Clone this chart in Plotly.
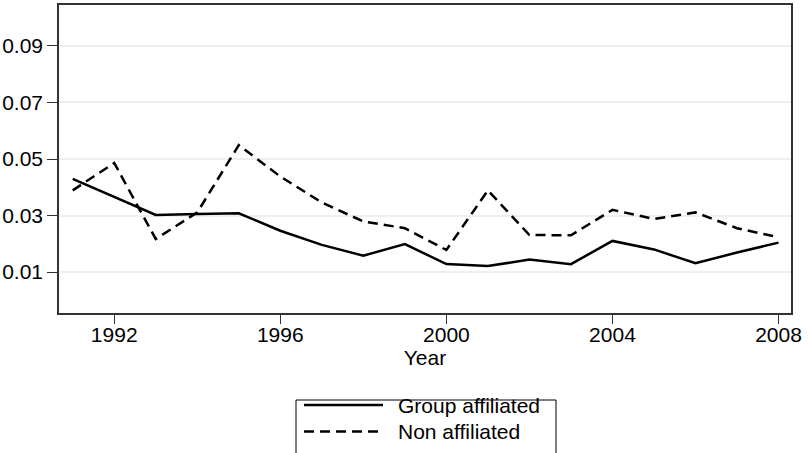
import plotly.graph_objects as go

years = list(range(1991, 2009))
group_affiliated = [0.0430, 0.0367, 0.0302, 0.0305, 0.0308, 0.0246, 0.0196, 0.0158, 0.0199,
                    0.0128, 0.0121, 0.0144, 0.0128, 0.0210, 0.0180, 0.0131, 0.0169, 0.0204]
non_affiliated = [0.0389, 0.0486, 0.0217, 0.0311, 0.0549, 0.0438, 0.0346, 0.0279, 0.0255,
                  0.0178, 0.0389, 0.0231, 0.0230, 0.0320, 0.0288, 0.0311, 0.0255, 0.0223]
x_ticks = [1992, 1996, 2000, 2004, 2008]
y_ticks = [0.01, 0.03, 0.05, 0.07, 0.09]
y_tick_labels = ["0.01", "0.03", "0.05", "0.07", "0.09"]
series_names = ["Group affiliated", "Non affiliated"]

FONT = "Liberation Sans, Arial, Helvetica, sans-serif"
DASH = "10px,6px"

fig = go.Figure()
fig.add_trace(go.Scatter(x=years, y=group_affiliated, mode="lines", name=series_names[0],
                         line=dict(color="black", width=2.5)))
fig.add_trace(go.Scatter(x=years, y=non_affiliated, mode="lines", name=series_names[1],
                         line=dict(color="black", width=2.5, dash=DASH)))

# --- manual legend (paper coordinates; plot area is 732 x 308 px) ---
PW, PH, L0, B0 = 732.0, 308.0, 59.0, 313.0
def px(x):
    return (x - L0) / PW
def py(y):
    return (B0 - y) / PH

shapes = [
    dict(type="rect", xref="paper", yref="paper", x0=px(296), x1=px(556), y0=py(455), y1=py(400),
         line=dict(color="black", width=1), fillcolor="white", layer="above"),
    dict(type="line", xref="paper", yref="paper", x0=px(304), x1=px(383), y0=py(405), y1=py(405),
         line=dict(color="black", width=2.5)),
    dict(type="line", xref="paper", yref="paper", x0=px(304), x1=px(383), y0=py(431.5), y1=py(431.5),
         line=dict(color="black", width=2.5, dash=DASH)),
]
annotations = [
    dict(text=series_names[0], xref="paper", yref="paper", x=px(396), y=py(405),
         xanchor="left", yanchor="middle", showarrow=False, font=dict(size=21)),
    dict(text=series_names[1], xref="paper", yref="paper", x=px(396), y=py(431.5),
         xanchor="left", yanchor="middle", showarrow=False, font=dict(size=21)),
]

fig.update_layout(
    width=808, height=453,
    margin=dict(l=59, r=17, t=5, b=140, autoexpand=False),
    paper_bgcolor="white", plot_bgcolor="white",
    font=dict(family=FONT, size=21, color="black"),
    showlegend=False,
    shapes=shapes, annotations=annotations,
)
fig.update_xaxes(range=[1990.67, 2008.3], tickvals=x_ticks, ticks="outside", ticklen=9,
                 tickcolor="#333", linecolor="#333", linewidth=1.5, mirror=True,
                 showgrid=False, zeroline=False, ticklabelstandoff=-7,
                 title=dict(text="Year", standoff=0, font=dict(size=21)))
fig.update_yaxes(range=[-0.0045, 0.1045], tickvals=y_ticks, ticktext=y_tick_labels,
                 ticks="outside", ticklen=10, tickcolor="#333", linecolor="#333", linewidth=1.5,
                 mirror=True, showgrid=True, gridcolor="#eaf0f3", gridwidth=1.5, zeroline=False)

fig.write_html("out.html", config={"displayModeBar": False},
               post_script="document.body.style.margin='0';")
